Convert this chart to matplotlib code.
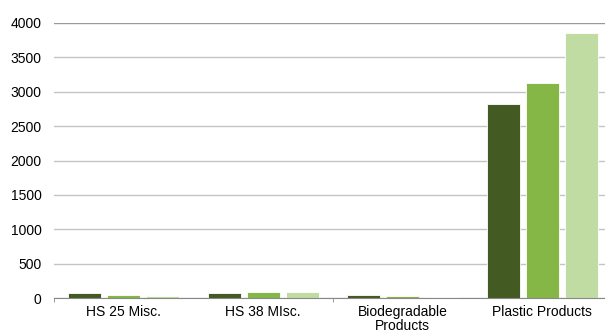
import matplotlib.pyplot as plt
import numpy as np

plt.rcParams['font.family'] = ['Liberation Sans Narrow', 'Liberation Sans', 'DejaVu Sans']

categories = ['HS 25 Misc.', 'HS 38 MIsc.', 'Biodegradable\nProducts', 'Plastic Products']
series_a = [67, 67, 43, 2820]
series_b = [48, 92, 22, 3120]
series_c = [26, 85, 20, 3850]
yticks = [0, 500, 1000, 1500, 2000, 2500, 3000, 3500, 4000]

colors = ['#435A22', '#84B745', '#C1DCA2']

fig = plt.figure(figsize=(6.05, 3.32), dpi=100)
ax = fig.add_axes([54 / 605, 1 - 298 / 332, 1 - 54 / 605, (298 - 23) / 332])

x = np.arange(len(categories))
for k, (vals, c) in enumerate(zip([series_a, series_b, series_c], colors)):
    ax.bar(x + (k - 1) * 0.28, vals, width=0.235,
           color=c, edgecolor='white', linewidth=0.6, zorder=3)

ax.set_xlim(-0.5, 3.45)
ax.set_ylim(0, 4000)
ax.set_yticks(yticks)
ax.set_yticklabels([str(v) for v in yticks], fontsize=10)
ax.set_xticks(x)
ax.set_xticklabels(categories, fontsize=10, linespacing=1.0)
ax.tick_params(axis='x', length=0, pad=5)
ax.set_xticks([-0.5, 1.5], minor=True)
ax.tick_params(axis='x', which='minor', length=3, color='#888888')
ax.tick_params(axis='y', length=0, pad=9)

ax.grid(axis='y', color='#c4c4c4', linewidth=1.0, zorder=0)
ax.get_ygridlines()[-1].set_color('#999999')
for s in ['top', 'right', 'left']:
    ax.spines[s].set_visible(False)
ax.spines['bottom'].set_color('#888888')
ax.spines['bottom'].set_zorder(4)

fig.savefig('out.png', dpi=100)
